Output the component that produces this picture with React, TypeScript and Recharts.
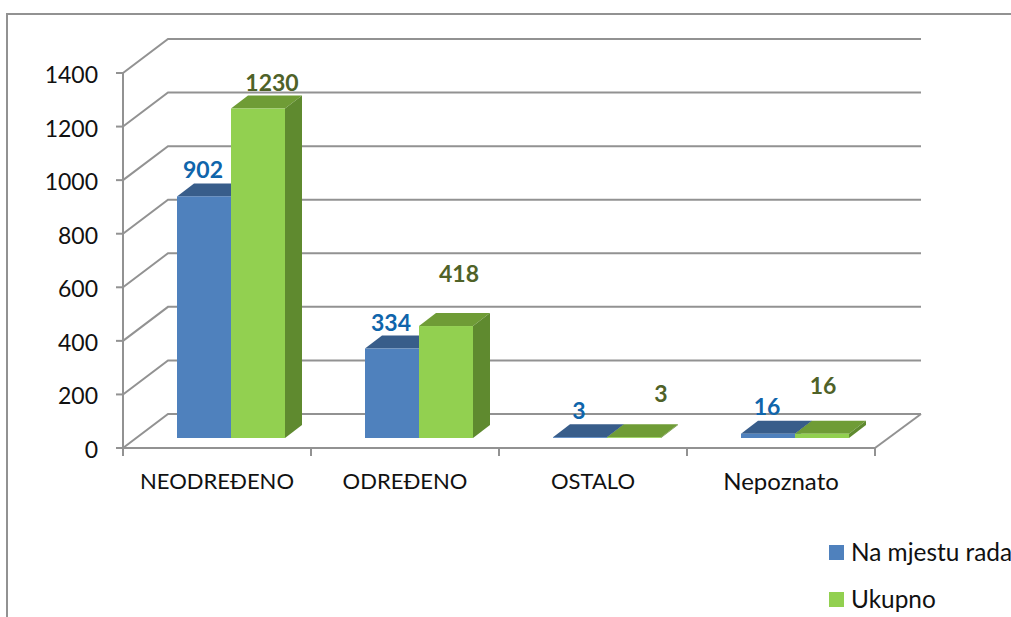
import { BarChart, Bar, XAxis, YAxis, LabelList, CartesianGrid } from 'recharts'

const categories = ['NEODREĐENO', 'ODREĐENO', 'OSTALO', 'Nepoznato']
const naMjestuRada = [902, 334, 3, 16]
const ukupno = [1230, 418, 3, 16]
const yTicks = [0, 200, 400, 600, 800, 1000, 1200, 1400]

const seriesNames = ['Na mjestu rada', 'Ukupno']

// manual label placement from the source chart
const blueLift = [27, 27, 27, 28]
const blueShift = [-1, -1, -1, -1]
const greenLift = [27, 53, 44, 49]
const greenShift = [14, 13, 27, 1]

const data = categories.map((name, i) => ({
  name,
  rada: naMjestuRada[i],
  ukupno: ukupno[i],
}))

const FONT = 'Lato, sans-serif'
const GREY = '#929292'
const TEXT = '#111111'

const WIDTH = 1011
const HEIGHT = 617
const AXIS_X = 123
const AXIS_RIGHT = 875
const BAND = (AXIS_RIGHT - AXIS_X) / categories.length

// 3d depth of the walls and of the bars
const WALL_DX = 45
const WALL_DY = 34
const WALL_RIGHT = 921
const BAR_DX = 14
const BAR_DY = 10
const DEPTH_X = 17
const DEPTH_Y = 13

const blue = { front: '#4f81bd', top: '#385d8a', side: '#385d8a', label: '#0f65ab' }
const green = { front: '#92d050', top: '#6f9c36', side: '#5f8a2f', label: '#4f6228' }

const make3dBar = (c: typeof blue) => (props: any) => {
  const { width, height } = props
  const x = props.x + BAR_DX
  const y = props.y - BAR_DY
  const b = y + height
  return (
    <g>
      <polygon
        points={`${x},${y} ${x + DEPTH_X},${y - DEPTH_Y} ${x + width + DEPTH_X},${y - DEPTH_Y} ${x + width},${y}`}
        fill={c.top}
      />
      <polygon
        points={`${x + width},${y} ${x + width + DEPTH_X},${y - DEPTH_Y} ${x + width + DEPTH_X},${b - DEPTH_Y} ${x + width},${b}`}
        fill={c.side}
      />
      <rect x={x} y={y} width={width} height={height} fill={c.front} />
    </g>
  )
}

const makeLabel = (color: string, lift: number[], shift: number[]) => (props: any) => {
  const { x, y, width, value, index } = props
  return (
    <text
      x={x + BAR_DX + width / 2 + shift[index]}
      y={y - BAR_DY - lift[index]}
      textAnchor="middle"
      dominantBaseline="central"
      fontFamily={FONT}
      fontWeight={700}
      fontSize={23}
      fill={color}
    >
      {value}
    </text>
  )
}

// grid lines bent into the side wall and back wall
const wallLine = (props: any) => {
  const y = props.y1
  const backY = y - WALL_DY
  return (
    <g key={props.key ?? y}>
      <polyline
        points={`${AXIS_X},${y} ${AXIS_X + WALL_DX},${backY} ${WALL_RIGHT},${backY}`}
        fill="none"
        stroke={GREY}
        strokeWidth={2}
      />
      {y > 440 && (
        <polyline points={`${WALL_RIGHT},${backY} ${AXIS_RIGHT},${y}`} fill="none" stroke={GREY} strokeWidth={2} />
      )}
    </g>
  )
}

const YTick = (props: any) => {
  const { x, y, payload } = props
  return (
    <text x={x} y={y + 1} textAnchor="end" dominantBaseline="central" fontFamily={FONT} fontSize={23} fill={TEXT}>
      {payload.value}
    </text>
  )
}

const XTick = (props: any) => {
  const { x, y, payload, index } = props
  // lowercase runs narrower in Lato than the caps do
  const size = payload.value === payload.value.toUpperCase() ? 22 : 24
  return (
    <g>
      {index === 0 && <line x1={x - BAND / 2} x2={x - BAND / 2} y1={448} y2={456} stroke={GREY} strokeWidth={2} />}
      <line x1={x + BAND / 2} x2={x + BAND / 2} y1={448} y2={456} stroke={GREY} strokeWidth={2} />
      <text x={x} y={y} textAnchor="middle" dominantBaseline="central" fontFamily={FONT} fontSize={size} fill={TEXT}>
        {payload.value}
      </text>
    </g>
  )
}

function SideLegend() {
  const colors = [blue.front, green.front]
  return (
    <div style={{ position: 'absolute', left: 829, top: 537, fontFamily: FONT, fontSize: 24.4, color: TEXT }}>
      {seriesNames.map((name, i) => (
        <div key={name} style={{ display: 'flex', alignItems: 'center', height: 30, marginBottom: 17, whiteSpace: 'nowrap' }}>
          <span style={{ width: 15, height: 15, background: colors[i], marginRight: 7, flexShrink: 0 }} />
          <span style={{ position: 'relative', top: -1 }}>{name}</span>
        </div>
      ))}
    </div>
  )
}

export default function App() {
  return (
    <div
      style={{
        position: 'fixed',
        left: 0,
        top: 0,
        width: WIDTH,
        height: HEIGHT,
        overflow: 'hidden',
        background: '#fff',
      }}
    >
      {/* outer frame runs past the crop on the right and bottom */}
      <div
        style={{
          position: 'absolute',
          left: 6,
          top: 13,
          width: WIDTH + 20,
          height: HEIGHT + 20,
          border: `2px solid ${GREY}`,
        }}
      />
      <div style={{ position: 'absolute', left: 0, top: 0 }}>
        <BarChart
          width={WIDTH}
          height={HEIGHT}
          data={data}
          margin={{ top: 73, right: WIDTH - AXIS_RIGHT, bottom: 119, left: 0 }}
          barCategoryGap={40}
          barGap={0}
        >
          <CartesianGrid vertical={false} horizontal={wallLine} />
          <YAxis
            width={AXIS_X}
            domain={[0, 1400]}
            ticks={yTicks}
            interval={0}
            tick={<YTick />}
            tickSize={7}
            tickMargin={18}
            axisLine={{ stroke: GREY, strokeWidth: 2 }}
            tickLine={{ stroke: GREY, strokeWidth: 2 }}
          />
          <XAxis
            dataKey="name"
            height={50}
            interval={0}
            tick={<XTick />}
            tickLine={false}
            tickSize={0}
            tickMargin={32}
            axisLine={{ stroke: GREY, strokeWidth: 2 }}
          />
          <Bar dataKey="rada" barSize={54} shape={make3dBar(blue)} isAnimationActive={false}>
            <LabelList dataKey="rada" content={makeLabel(blue.label, blueLift, blueShift)} />
          </Bar>
          <Bar dataKey="ukupno" barSize={54} shape={make3dBar(green)} isAnimationActive={false}>
            <LabelList dataKey="ukupno" content={makeLabel(green.label, greenLift, greenShift)} />
          </Bar>
        </BarChart>
      </div>
      <SideLegend />
    </div>
  )
}
